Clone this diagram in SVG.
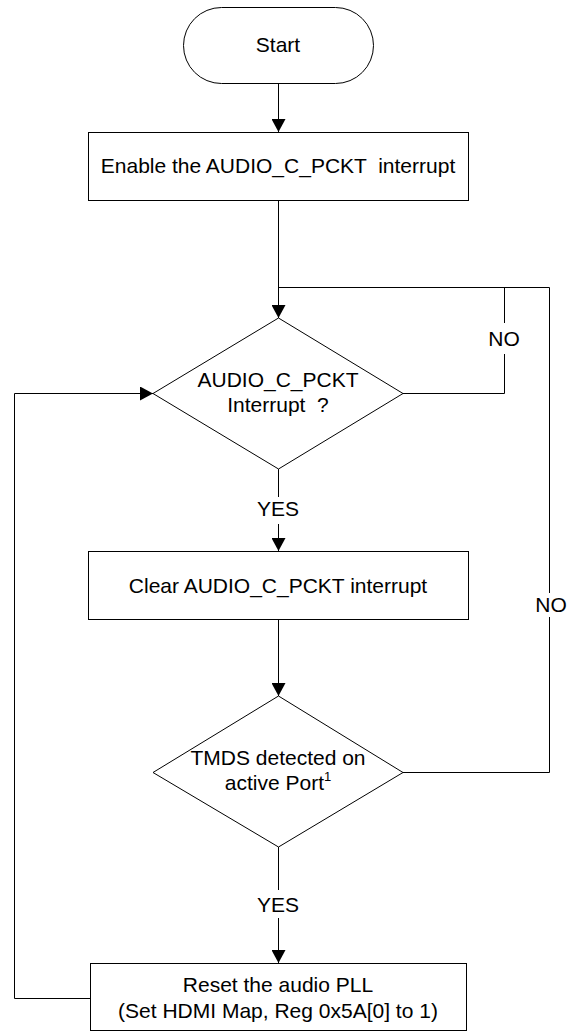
<svg xmlns="http://www.w3.org/2000/svg" width="567" height="1032" viewBox="0 0 567 1032">
<style>
.shape{fill:#fff;stroke:#000;stroke-width:1}
.line{fill:none;stroke:#000;stroke-width:1}
text{font-family:"Liberation Sans",Arial,sans-serif;font-size:21px;fill:#000;text-anchor:middle}
.lbl{font-size:21px}
</style>
<defs>
<marker id="arr" markerUnits="userSpaceOnUse" markerWidth="13" markerHeight="14" refX="13" refY="7" orient="auto">
<path d="M0,0 L13,7 L0,14 z" fill="#000"/>
</marker>
</defs>
<rect width="567" height="1032" fill="#fff"/>
<g id="connectors">
<line class="line" x1="278.5" y1="83" x2="278.5" y2="132" marker-end="url(#arr)"/>
<line class="line" x1="278.5" y1="200" x2="278.5" y2="318" marker-end="url(#arr)"/>
<polyline class="line" points="403,393.5 504.5,393.5 504.5,354"/>
<polyline class="line" points="504.5,323 504.5,287.5"/>
<polyline class="line" points="278.5,287.5 549.5,287.5 549.5,593"/>
<polyline class="line" points="549.5,617 549.5,772.5 403,772.5"/>
<line class="line" x1="278.5" y1="469" x2="278.5" y2="497"/>
<line class="line" x1="278.5" y1="524" x2="278.5" y2="551" marker-end="url(#arr)"/>
<line class="line" x1="278.5" y1="620" x2="278.5" y2="696" marker-end="url(#arr)"/>
<line class="line" x1="278.5" y1="847" x2="278.5" y2="890"/>
<line class="line" x1="278.5" y1="918" x2="278.5" y2="963" marker-end="url(#arr)"/>
<polyline class="line" points="90,998.5 14.5,998.5 14.5,393.5 153,393.5" marker-end="url(#arr)"/>
<text class="lbl" x="504" y="346">NO</text>
<text class="lbl" x="551" y="612">NO</text>
<text class="lbl" x="278" y="516">YES</text>
<text class="lbl" x="278" y="912">YES</text>
</g>
<g id="start">
<rect class="shape" x="183.5" y="7.5" width="190" height="76" rx="38" ry="38"/>
<text x="278" y="52">Start</text>
</g>
<g id="enable">
<rect class="shape" x="88.5" y="132.5" width="380" height="68"/>
<text x="278" y="173" xml:space="preserve">Enable the AUDIO_C_PCKT  interrupt</text>
</g>
<g id="decision1">
<polygon class="shape" points="278.5,318 403,393.5 278.5,469 153,393.5"/>
<text x="278" y="387">AUDIO_C_PCKT</text>
<text x="278" y="412" xml:space="preserve">Interrupt  ?</text>
</g>
<g id="clear">
<rect class="shape" x="88.5" y="551.5" width="380" height="68"/>
<text x="278" y="593">Clear AUDIO_C_PCKT interrupt</text>
</g>
<g id="decision2">
<polygon class="shape" points="278.5,696 403,772.5 278.5,847 153,772.5"/>
<text x="278" y="765">TMDS detected on</text>
<text x="278" y="790">active Port<tspan font-size="13" dy="-9">1</tspan></text>
</g>
<g id="reset">
<rect class="shape" x="90.5" y="963.5" width="376" height="67"/>
<text x="278" y="992">Reset the audio PLL</text>
<text x="278" y="1018">(Set HDMI Map, Reg 0x5A[0] to 1)</text>
</g>
</svg>
